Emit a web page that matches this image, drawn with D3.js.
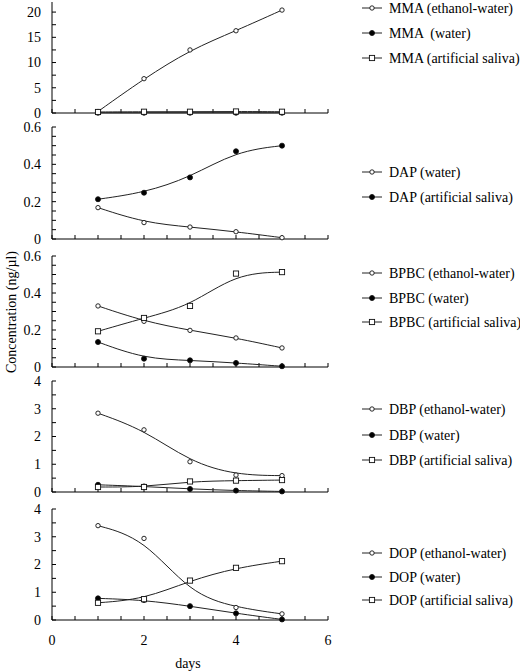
<!DOCTYPE html>
<html><head><meta charset="utf-8">
<script src="https://cdn.jsdelivr.net/npm/d3@7"></script>
</head>
<body style="margin:0;background:#fff"><svg id="c" width="520" height="672" style="display:block"></svg>
<script>
// ---- data ----
const days = [1, 2, 3, 4, 5];
const xTickLabels = [0, 2, 4, 6];

const mmaEthanolWater = [0.3, 6.8, 12.5, 16.3, 20.4];
const mmaWater        = [0.05, 0.05, 0.05, 0.05, 0.05];
const mmaSaliva       = [0.2, 0.25, 0.25, 0.3, 0.25];

const dapWater  = [0.168, 0.088, 0.064, 0.039, 0.007];
const dapSaliva = [0.213, 0.248, 0.33, 0.47, 0.50];

const bpbcEthanolWater = [0.33, 0.247, 0.198, 0.157, 0.103];
const bpbcWater        = [0.135, 0.045, 0.036, 0.022, 0.004];
const bpbcSaliva       = [0.193, 0.265, 0.33, 0.505, 0.513];

const dbpEthanolWater = [2.84, 2.24, 1.09, 0.61, 0.59];
const dbpWater        = [0.26, 0.20, 0.11, 0.05, 0.02];
const dbpSaliva       = [0.18, 0.18, 0.38, 0.41, 0.43];

const dopEthanolWater      = [3.40, 2.94, null, 0.45, 0.22];
const dopEthanolWaterCurve = [3.40, 2.94, 0.95, 0.45, 0.22];
const dopWater             = [0.78, 0.72, 0.50, 0.24, 0.02];
const dopSaliva            = [0.62, 0.75, 1.42, 1.88, 2.12];

const mmaTicks = [0, 5, 10, 15, 20];
const smallTicks = [0, 0.2, 0.4, 0.6];
const dTicks = [0, 1, 2, 3, 4];

const panels = [
  {max: 22, ticks: mmaTicks, minor: 2.5, series: [
    {name: "MMA (ethanol-water)", vals: mmaEthanolWater, sym: "open"},
    {name: "MMA  (water)", vals: mmaWater, sym: "filled"},
    {name: "MMA (artificial saliva)", vals: mmaSaliva, sym: "square"}]},
  {max: 0.6, ticks: smallTicks, minor: 0.05, series: [
    {name: "DAP (water)", vals: dapWater, sym: "open"},
    {name: "DAP (artificial saliva)", vals: dapSaliva, sym: "filled"}]},
  {max: 0.6, ticks: smallTicks, minor: 0.05, series: [
    {name: "BPBC (ethanol-water)", vals: bpbcEthanolWater, sym: "open"},
    {name: "BPBC (water)", vals: bpbcWater, sym: "filled"},
    {name: "BPBC (artificial saliva)", vals: bpbcSaliva, sym: "square"}]},
  {max: 4, ticks: dTicks, minor: 0.5, series: [
    {name: "DBP (ethanol-water)", vals: dbpEthanolWater, sym: "open"},
    {name: "DBP (water)", vals: dbpWater, sym: "filled"},
    {name: "DBP (artificial saliva)", vals: dbpSaliva, sym: "square"}]},
  {max: 4, ticks: dTicks, minor: 0.5, series: [
    {name: "DOP (ethanol-water)", vals: dopEthanolWater, curve: dopEthanolWaterCurve, sym: "open"},
    {name: "DOP (water)", vals: dopWater, sym: "filled"},
    {name: "DOP (artificial saliva)", vals: dopSaliva, sym: "square"}]}
];

// ---- layout ----
const FONT = "Liberation Serif";
const tops    = [2, 127, 256, 381, 509];
const bottoms = [113, 239, 367, 492, 620];
const legendRows = [[8, 33, 58], [172, 197], [273, 298, 322], [409, 435, 460], [553, 577, 600]];
const xLeft = 52, xRight = 328;

const svg = d3.select("#c");
const x = d3.scaleLinear().domain([0, 6]).range([xLeft, xRight]);
const xMinor = d3.range(0, 6.0001, 0.5);

function txt(g) {
  return g.append("text").attr("font-family", FONT).attr("fill", "#000").style("white-space", "pre");
}

function drawMarker(g, sym, cx, cy) {
  if (sym === "square") {
    g.append("rect").attr("x", cx - 2.6).attr("y", cy - 2.6).attr("width", 5.2).attr("height", 5.2)
      .attr("fill", "#fff").attr("stroke", "#111").attr("stroke-width", 0.9);
  } else {
    g.append("circle").attr("cx", cx).attr("cy", cy).attr("r", sym === "filled" ? 2.5 : 2.2)
      .attr("fill", sym === "filled" ? "#000" : "#fff").attr("stroke", "#111").attr("stroke-width", 0.9);
  }
}

panels.forEach((p, i) => {
  const y = d3.scaleLinear().domain([0, p.max]).range([bottoms[i], tops[i]]);
  const g = svg.append("g");

  // y axis
  g.append("line").attr("x1", xLeft).attr("x2", xLeft).attr("y1", y(0)).attr("y2", y(p.max))
    .attr("stroke", "#000").attr("stroke-width", 1);
  d3.range(0, p.max + 1e-9, p.minor).forEach(v => {
    g.append("line").attr("x1", xLeft).attr("x2", xLeft + 4).attr("y1", y(v)).attr("y2", y(v))
      .attr("stroke", "#000").attr("stroke-width", 1);
  });
  p.ticks.forEach(v => {
    txt(g).attr("x", 41).attr("y", y(v)).attr("dy", "0.35em")
      .attr("text-anchor", "end").attr("font-size", 14).text(v);
  });

  // x axis
  g.append("line").attr("x1", x(0)).attr("x2", x(6)).attr("y1", y(0)).attr("y2", y(0))
    .attr("stroke", "#000").attr("stroke-width", 1);
  xMinor.forEach(v => {
    g.append("line").attr("x1", x(v)).attr("x2", x(v)).attr("y1", y(0)).attr("y2", y(0) - 4)
      .attr("stroke", "#000").attr("stroke-width", 1);
  });

  // series lines
  p.series.forEach(s => {
    const src = s.curve || s.vals;
    const pts = days.map((d, k) => [d, src[k]]).filter(q => q[1] !== null);
    const line = d3.line().x(q => x(q[0])).y(q => y(q[1])).curve(d3.curveBasis);
    g.append("path").attr("d", line(pts)).attr("fill", "none")
      .attr("stroke", "#222").attr("stroke-width", 1);
  });
  // markers
  ["filled", "open", "square"].forEach(sym => {
    p.series.filter(s => s.sym === sym).forEach(s => {
      days.forEach((d, k) => {
        if (s.vals[k] !== null) drawMarker(g, sym, x(d), y(s.vals[k]));
      });
    });
  });

  // legend
  p.series.forEach((s, k) => {
    const ly = legendRows[i][k];
    g.append("line").attr("x1", 362).attr("x2", 382).attr("y1", ly).attr("y2", ly)
      .attr("stroke", "#222").attr("stroke-width", 1);
    drawMarker(g, s.sym, 372, ly);
    txt(g).attr("x", 389).attr("y", ly).attr("dy", "0.33em")
      .attr("font-size", 14).text(s.name);
  });

  if (i === panels.length - 1) {
    xTickLabels.forEach(v => {
      txt(g).attr("x", x(v)).attr("y", 640).attr("dy", "0.35em")
        .attr("text-anchor", "middle").attr("font-size", 14).text(v);
    });
  }
});

txt(svg).attr("x", 188).attr("y", 663).attr("dy", "0.35em")
  .attr("text-anchor", "middle").attr("font-size", 14).text("days");
txt(svg).attr("transform", "translate(11,312) rotate(-90)")
  .attr("dy", "0.35em").attr("text-anchor", "middle").attr("font-size", 14)
  .text("Concentration (ng/µl)");
</script></body></html>
